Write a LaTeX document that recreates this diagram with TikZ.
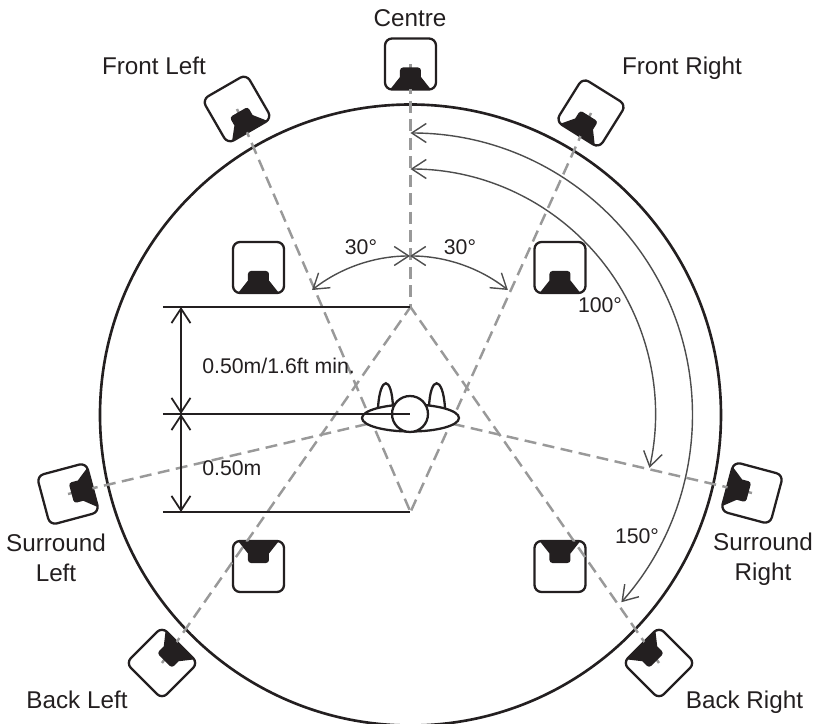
\documentclass[tikz,border=0pt]{standalone}
\usepackage{fontspec}
\setmainfont{Liberation Sans}
\usetikzlibrary{arrows.meta,shapes.geometric}
\definecolor{inkblack}{HTML}{231F20}
\definecolor{guidegray}{HTML}{999999}
\definecolor{arcgray}{HTML}{4D4D4D}
\tikzset{
	speakerbox/.style={draw=inkblack, line width=1.3pt, fill=white, rounded corners=0.14cm, minimum size=1.02cm, inner sep=0pt, outer sep=0pt},
	speakerlabel/.style={text=inkblack, font=\fontsize{13.8}{17}\selectfont, align=center},
	smalllabel/.style={text=inkblack, font=\fontsize{12.1}{14}\selectfont},
	guide/.style={draw=guidegray, line width=1.4pt, dash pattern=on 6.8pt off 3.7pt},
	anglearc/.style={draw=arcgray, line width=0.8pt},
	bothends/.style={arrows={Straight Barb[length=0.29cm, width=0.38cm]-Straight Barb[length=0.29cm, width=0.38cm]}},
	dimline/.style={draw=inkblack, line width=1pt},
	dimarrow/.style={draw=inkblack, line width=1pt, bothends},
}
\begin{document}
\begin{tikzpicture}[x=0.02cm, y=0.02cm]
	\useasboundingbox (-410,-310) rectangle (406,414);
	\draw[draw=inkblack, line width=1.5pt] (0.5,-1) circle (310.5);
	% speaker boxes
	\foreach \nm/\px/\py/\rot in {cn/0.5/350/0, fl/-173/305/30, fr/181/301/-32, ifl/-151.5/146.5/0, ifr/150/146.5/0, sl/-342/-80/105, sr/342/-79/-105, ibl/-151.5/-152.5/180, ibr/150/-152.5/180, bl/-248/-249/135, br/249/-249/-135}{
		\node[speakerbox, rotate=\rot] (\nm) at (\px,\py) {};
	}
	\coordinate (seat) at (0,0);
	\coordinate (front) at (0.5,107);
	\coordinate (rear) at (0.5,-98);
	% dashed lines
	\draw[guide] (cn.center) -- (front);
	\draw[guide] (fl.center) -- (rear);
	\draw[guide] (fr.center) -- (rear);
	\draw[guide] (bl.center) -- (front);
	\draw[guide] (br.center) -- (front);
	\draw[guide] (sl.center) -- (seat);
	\draw[guide] (sr.center) -- (seat);
	% drivers
	\foreach \nm/\rot in {cn/0, fl/30, fr/-32, ifl/0, ifr/0, sl/105, sr/-105, ibl/180, ibr/180, bl/135, br/-135}{
		\fill[inkblack, shift={(\nm.center)}, rotate=\rot] (-20,-25) -- (-10.5,-13) [rounded corners=0.06cm] -- (-10.5,-3.5) -- (10.5,-3.5) [sharp corners] -- (10.5,-13) -- (20,-25) -- cycle;
	}
	% listener
	\draw[draw=inkblack, line width=1.3pt, fill=white] (-32,6) .. controls (-30,39) and (-18,39) .. (-17,6);
	\draw[draw=inkblack, line width=1.3pt, fill=white] (19,6) .. controls (20,39) and (33,39) .. (35,6);
	\node[ellipse, draw=inkblack, line width=1.3pt, fill=white, minimum width=1.94cm, minimum height=0.54cm, inner sep=0pt, outer sep=0pt] (body) at (0.5,-4) {};
	\node[circle, draw=inkblack, line width=1.3pt, fill=white, minimum size=0.72cm, inner sep=0pt, outer sep=0pt] (head) at (0,0) {};
	% distances
	\coordinate (topl) at (-247,107);
	\coordinate (midl) at (-247,0);
	\coordinate (lowl) at (-247,-98);
	\coordinate (topa) at (-229,107);
	\coordinate (mida) at (-229,0);
	\coordinate (lowa) at (-229,-98);
	\draw[dimline] (topl) -- (front);
	\draw[dimline] (midl) -- (seat);
	\draw[dimline] (lowl) -- (rear);
	\draw[dimarrow] (topa) -- (mida);
	\draw[dimarrow] (mida) -- (lowa);
	% angles
	\coordinate (arctop) at (0,158);
	\coordinate (inner) at (0.5,245);
	\coordinate (outer) at (0.5,281);
	\draw[anglearc, bothends] (arctop) arc (90:128.3:158);
	\draw[anglearc, bothends] (arctop) arc (90:51.7:158);
	\draw[anglearc, bothends] (inner) arc (90:-12.7:245);
	\draw[anglearc, bothends] (outer) arc (90:-41.6:282);
	% labels
	\node[speakerlabel, anchor=base] (lcn) at (0,387) {Centre};
	\node[speakerlabel, anchor=base] (lfl) at (-256,339) {Front Left};
	\node[speakerlabel, anchor=base] (lfr) at (272,339) {Front Right};
	\node[speakerlabel] (lsl) at (-354,-144) {Surround\\Left};
	\node[speakerlabel] (lsr) at (353,-145.5) {Surround\\Right};
	\node[speakerlabel, anchor=base] (lbl) at (-333,-295) {Back Left};
	\node[speakerlabel, anchor=base] (lbr) at (334.5,-295) {Back Right};
	\node[smalllabel] (a1) at (-49,167) {30°};
	\node[smalllabel] (a2) at (50,167) {30°};
	\node[smalllabel] (a3) at (190,109) {100°};
	\node[smalllabel] (a4) at (227,-122) {150°};
	\node[smalllabel, anchor=west, inner sep=0pt] (d1) at (-208,48) {0.50m/1.6ft min.};
	\node[smalllabel, anchor=west, inner sep=0pt] (d2) at (-208,-54) {0.50m};
\end{tikzpicture}
\end{document}
